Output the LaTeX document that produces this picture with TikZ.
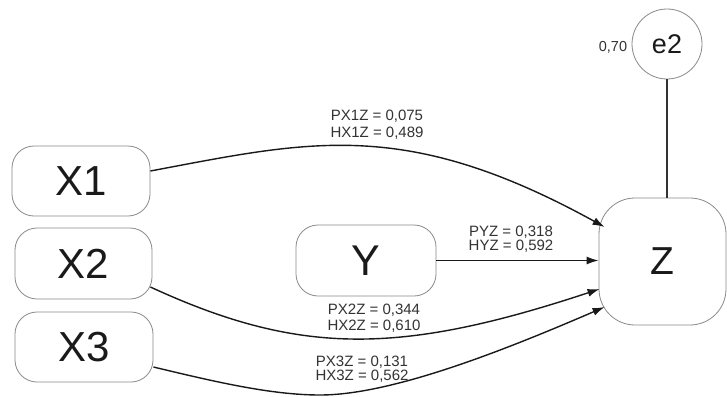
\documentclass[tikz,border=0pt]{standalone}
\usepackage{fontspec}
\setmainfont{Liberation Sans}
\usetikzlibrary{arrows.meta}
\definecolor{boxline}{HTML}{8A8A8A}
\definecolor{txt}{HTML}{1A1A1A}
\definecolor{lbl}{HTML}{333333}
\begin{document}
\begin{tikzpicture}[x=1pt,y=-1pt,
  varbox/.style={draw=boxline,line width=0.8pt,rounded corners=22pt,inner sep=0pt,
    minimum width=138pt,minimum height=70pt,text=txt,font=\fontsize{42}{42}\selectfont},
  coef/.style={inner sep=0pt,anchor=base,align=center,text=lbl},
  path/.style={draw=black!90,line width=1.4pt,-{Latex[length=12pt,width=8pt]}}]
\useasboundingbox (0,0) rectangle (727,396);
\fill[white] (0,0) rectangle (727,396);

\node[varbox] (X1) at (81,181) {X1};
\node[varbox,minimum width=137pt,minimum height=71pt] (X2) at (83.5,263.5) {X2};
\node[varbox] (X3) at (84,347) {X3};
\node[varbox,minimum width=140pt,minimum height=71pt,font=\fontsize{43}{43}\selectfont] (Y) at (366,260.5) {Y};
\node[varbox,minimum width=127pt,minimum height=127pt,rounded corners=36pt,font=\fontsize{39}{39}\selectfont] (Z) at (662.5,261.5) {Z};
\node[draw=boxline,line width=0.8pt,circle,inner sep=0pt,minimum size=70pt,text=txt,font=\fontsize{27}{27}\selectfont] (e2) at (667,44) {e2};
\node[inner sep=0pt,text=lbl,font=\fontsize{14.5}{14.5}\selectfont] (v) at (613,47) {0,70};

\draw[draw=black!80,line width=1.2pt] (e2.south) -- (e2.south |- Z.north);

\draw[path] ([yshift=10pt]X1.east) .. controls (310,141) and (405,117) .. ([shift={(6pt,34.5pt)}]Z.west);
\draw[path] (Y.east) -- (Y.east -| Z.west);
\draw[path] ([shift={(-2pt,-23.5pt)}]X2.east) .. controls (300,356) and (400,355) .. ([shift={(1pt,-27.5pt)}]Z.west);
\draw[path] ([shift={(0pt,-20pt)}]X3.east) .. controls (212,381) and (270,395) .. (320,395)
  .. controls (392,395) and (505,350) .. ([shift={(6pt,-45.5pt)}]Z.west);

\node[coef,font=\fontsize{15}{17}\selectfont] (l1) at (377,137) {PX1Z = 0,075\\HX1Z = 0,489};
\node[coef,font=\fontsize{15}{14}\selectfont] (ly) at (511,250) {PYZ = 0,318\\HYZ = 0,592};
\node[coef,font=\fontsize{15}{16}\selectfont] (l2) at (374,330) {PX2Z = 0,344\\HX2Z = 0,610};
\node[coef,font=\fontsize{15}{14}\selectfont] (l3) at (362,380) {PX3Z = 0,131\\HX3Z = 0,562};
\end{tikzpicture}
\end{document}
